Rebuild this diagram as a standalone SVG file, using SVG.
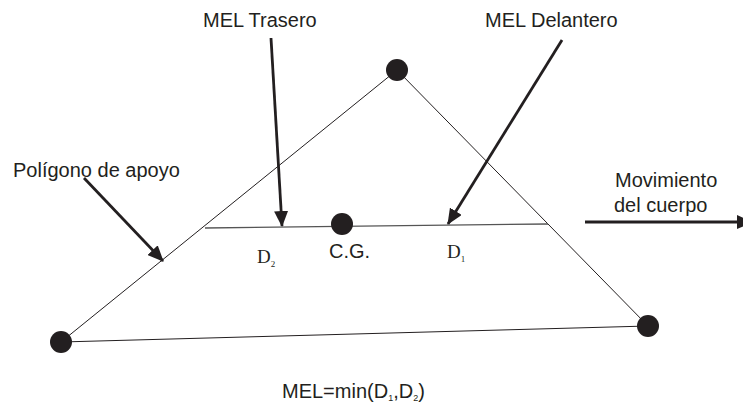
<svg xmlns="http://www.w3.org/2000/svg" width="743" height="408" viewBox="0 0 743 408">
<style>
.lbl{font-family:"Liberation Sans",Arial,sans-serif;font-size:20px;fill:#231f20}
.ser{font-family:"Liberation Serif","Times New Roman",serif;font-size:19px;fill:#231f20}
.thin{stroke:#231f20;stroke-width:1;fill:none}
.mid{stroke:#555;stroke-width:1.3;fill:none}
.arr{stroke:#231f20;stroke-width:2.8;fill:none;marker-end:url(#ah)}
.dot{fill:#231f20}
</style>
<defs>
<marker id="ah" markerUnits="userSpaceOnUse" markerWidth="16" markerHeight="14" refX="15" refY="7" orient="auto">
<path d="M0,0 L16,7 L0,14 Z" fill="#231f20"/>
</marker>
</defs>
<rect width="743" height="408" fill="#fff"/>
<g id="connectors">
<line class="thin" x1="61" y1="342" x2="397" y2="70"/>
<line class="thin" x1="397" y1="70" x2="648" y2="326"/>
<line class="thin" x1="61" y1="342" x2="648" y2="326"/>
<line class="mid" x1="205" y1="228" x2="548" y2="224"/>
<line class="arr" x1="271" y1="38" x2="282" y2="226"/>
<line class="arr" x1="562" y1="40" x2="448" y2="224"/>
<line class="arr" x1="84" y1="178" x2="163" y2="261"/>
<line class="arr" x1="585" y1="222" x2="752" y2="222"/>
</g>
<g id="node-top"><circle class="dot" cx="397" cy="70" r="11"/></g>
<g id="node-left"><circle class="dot" cx="61" cy="342" r="11"/></g>
<g id="node-right"><circle class="dot" cx="648" cy="326" r="11"/></g>
<g id="node-cg"><circle class="dot" cx="342" cy="224" r="11"/><text class="lbl" x="329" y="258">C.G.</text></g>
<g id="label-trasero"><text class="lbl" x="203" y="27">MEL Trasero</text></g>
<g id="label-delantero"><text class="lbl" x="485" y="27">MEL Delantero</text></g>
<g id="label-poligono"><text class="lbl" x="13" y="177">Polígono de apoyo</text></g>
<g id="label-movimiento"><text class="lbl" x="615" y="187">Movimiento</text><text class="lbl" x="614" y="212">del cuerpo</text></g>
<g id="label-d2"><text class="ser" x="257" y="263">D<tspan font-size="9" dy="4">2</tspan></text></g>
<g id="label-d1"><text class="ser" x="447" y="258">D<tspan font-size="9" dy="4">1</tspan></text></g>
<g id="label-mel"><text class="lbl" x="282" y="398">MEL=min(D<tspan font-size="9" dy="3">1</tspan><tspan dy="-3">,D</tspan><tspan font-size="9" dy="3">2</tspan><tspan dy="-3">)</tspan></text></g>
</svg>
